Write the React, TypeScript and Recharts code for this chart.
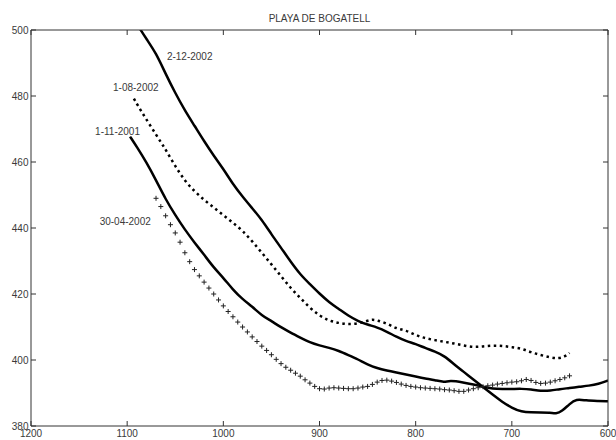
import React from "react";
import {
  LineChart,
  Line,
  XAxis,
  YAxis,
  ReferenceDot,
} from "recharts";

// beach profiles, Playa de Bogatell (distance vs level)
const xTicks = [1200, 1100, 1000, 900, 800, 700, 600];
const yTicks = [380, 400, 420, 440, 460, 480, 500];

const dec2002X = [
  1088, 1086, 1080, 1070, 1060, 1050, 1040, 1030, 1020, 1010, 1000, 990, 980, 970,
  960, 950, 940, 930, 920, 910, 900, 890, 880, 870, 860, 850, 840, 830, 820, 810,
  800, 790, 780, 770, 760, 750, 740, 730, 720, 710, 700, 690, 680, 670, 660, 654,
  648, 640, 633, 623, 610, 600,
];
const dec2002Y = [
  501, 500, 497.3, 493, 486.7, 480.9, 475.6, 471, 466.3, 461.9, 457.9, 453.3,
  449.5, 446, 442.5, 438.1, 434, 429.8, 425.9, 423, 420.1, 417.5, 415.5, 413.4,
  411.8, 410.7, 409.9, 408.6, 407, 405.7, 404.9, 403.6, 402.6, 401.2, 398.7,
  396.4, 394.1, 391.8, 389.5, 387.3, 385.5, 384.3, 384.1, 384.1, 384.1, 383.7,
  384.4, 386.7, 388.2, 387.7, 387.6, 387.5,
];

const nov2001X = [
  1097, 1090, 1080, 1070, 1060, 1050, 1040, 1030, 1020, 1010, 1000, 990, 980, 970,
  960, 950, 940, 930, 920, 910, 900, 890, 880, 870, 860, 850, 840, 830, 820, 810,
  800, 790, 780, 770, 765, 750, 740, 730, 720, 710, 700, 690, 680, 670, 660, 650,
  640, 630, 620, 610, 600,
];
const nov2001Y = [
  467.7, 464.6, 459.9, 454.5, 448.7, 443.9, 439.5, 435.6, 431.9, 428, 424.9,
  421.3, 418.4, 416.2, 413.5, 411.8, 409.9, 408.3, 406.8, 405.3, 404.4, 403.7,
  402.8, 401.5, 400.2, 398.6, 397.5, 396.8, 396.2, 395.6, 395, 394.4, 393.9,
  393.2, 393.8, 393.2, 392.6, 391.9, 391.3, 391.2, 391.2, 391.3, 391.1, 390.6,
  390.7, 391.2, 391.5, 391.9, 392.2, 392.7, 393.8,
];

const aug2002X = [
  1093, 1085, 1075, 1065, 1060, 1050, 1040, 1030, 1020, 1010, 1000, 990, 980, 970,
  960, 950, 940, 930, 920, 910, 900, 890, 880, 870, 860, 850, 845, 840, 830, 820,
  810, 800, 790, 780, 770, 760, 750, 740, 730, 720, 710, 700, 690, 680, 670, 660,
  652, 645, 640,
];
const aug2002Y = [
  479.2, 475.2, 470.6, 466, 463.8, 458.7, 454.3, 451.1, 448.5, 446.2, 443.9,
  441.6, 439.2, 436, 432.5, 429, 425.4, 421.8, 418.8, 415.8, 413.4, 411.9, 411.2,
  410.8, 411, 411.9, 412.3, 412, 411.1, 409.5, 409, 407.5, 406.6, 406, 405.5,
  405, 404.4, 403.9, 404.1, 404.4, 404.3, 403.9, 403.5, 402.3, 401.5, 400.8,
  400.4, 401, 402.1,
];

const apr2002X = [
  1070, 1065, 1060, 1055, 1050, 1045, 1040, 1035, 1030, 1025, 1020, 1015, 1010,
  1005, 1000, 995, 990, 985, 980, 975, 970, 965, 960, 955, 950, 945, 940, 935,
  930, 925, 920, 915, 910, 905, 900, 895, 890, 885, 880, 875, 870, 865, 860, 855,
  850, 845, 840, 835, 830, 825, 820, 815, 810, 805, 800, 795, 790, 785, 780, 775,
  770, 765, 760, 755, 750, 745, 740, 735, 730, 725, 720, 715, 710, 705, 700, 695,
  690, 685, 680, 675, 670, 665, 660, 655, 650, 645, 640,
];
const apr2002Y = [
  449, 446.5, 443.7, 441, 438.5, 435.7, 432.5, 429.8, 427.4, 425.5, 423.6, 421.8,
  420, 418.2, 416.4, 414.7, 413.1, 411.5, 410, 408.5, 407, 405.6, 404.2, 402.9,
  401.6, 400.2, 398.9, 397.8, 396.9, 396, 395.1, 394, 393, 392, 391.3, 391.2,
  391.5, 391.6, 391.5, 391.4, 391.3, 391.3, 391.5, 391.8, 392, 392.6, 393.3,
  393.8, 393.9, 393.6, 393.2, 392.7, 392.3, 392, 391.8, 391.6, 391.5, 391.4,
  391.3, 391.2, 391, 390.9, 390.7, 390.5, 390.5, 390.9, 391.3, 391.6, 391.9,
  392.2, 392.4, 392.7, 392.9, 393.1, 393.3, 393.4, 393.7, 394.1, 393.8, 393.2,
  392.9, 393, 393.3, 393.7, 394.1, 394.6, 395.2,
];

const labelNames = ["2-12-2002", "1-08-2002", "1-11-2001", "30-04-2002"];
const labelX = [1035, 1091, 1110, 1102];
const labelY = [492, 482.5, 469.2, 442.1];

const pair = (xs: number[], ys: number[]) => xs.map((x, i) => ({ x, y: ys[i] }));

const dec2002 = pair(dec2002X, dec2002Y);
const nov2001 = pair(nov2001X, nov2001Y);
const aug2002 = pair(aug2002X, aug2002Y);
const apr2002 = pair(apr2002X, apr2002Y);

const TEXT = "#3a3a3a";
const FRAME = "#333";

function BottomTick(props: any) {
  const { x, y, payload } = props;
  return (
    <g>
      <line x1={x} y1={y} x2={x} y2={y - 5} stroke={FRAME} />
      <text x={x} y={y + 10.5} textAnchor="middle" fontSize={10} fill={TEXT}>
        {payload.value}
      </text>
    </g>
  );
}

function TopTick(props: any) {
  const { x, y } = props;
  return <line x1={x} y1={y} x2={x} y2={y + 5} stroke={FRAME} />;
}

function LeftTick(props: any) {
  const { x, y, payload } = props;
  return (
    <g>
      <line x1={x} y1={y} x2={x + 5} y2={y} stroke={FRAME} />
      <text x={x - 2.5} y={y + 3.5} textAnchor="end" fontSize={10} fill={TEXT}>
        {payload.value}
      </text>
    </g>
  );
}

function RightTick(props: any) {
  const { x, y } = props;
  return <line x1={x} y1={y} x2={x - 5} y2={y} stroke={FRAME} />;
}

function PlusDot(props: any) {
  const { cx, cy, index } = props;
  if (cx == null || cy == null) return <g key={index} />;
  return (
    <path
      key={index}
      d={`M${cx - 2.5},${cy}h5M${cx},${cy - 2.5}v5`}
      stroke="#222"
      strokeWidth={1}
      fill="none"
    />
  );
}

export default function App() {
  return (
    <div
      style={{
        position: "absolute",
        left: 0,
        top: 0,
        width: 616,
        height: 440,
        background: "#fff",
        fontFamily: "'Liberation Sans', Arial, sans-serif",
      }}
    >
      <div
        style={{
          position: "absolute",
          left: 31,
          width: 577,
          top: 13,
          textAlign: "center",
          fontSize: 10,
          lineHeight: "12px",
          color: TEXT,
        }}
      >
        PLAYA DE BOGATELL
      </div>
      <LineChart
        width={616}
        height={440}
        margin={{ top: 0, right: 0, bottom: 0, left: 0 }}
      >
        <XAxis
          xAxisId="bottom"
          orientation="bottom"
          type="number"
          dataKey="x"
          domain={[600, 1200]}
          allowDataOverflow
          reversed
          ticks={xTicks}
          height={14}
          tickSize={0}
          tickMargin={0}
          tickLine={false}
          axisLine={{ stroke: FRAME }}
          tick={<BottomTick />}
          interval={0}
        />
        <XAxis
          xAxisId="top"
          orientation="top"
          type="number"
          dataKey="x"
          domain={[600, 1200]}
          allowDataOverflow
          reversed
          ticks={xTicks}
          height={30}
          tickSize={0}
          tickMargin={0}
          tickLine={false}
          axisLine={{ stroke: FRAME }}
          tick={<TopTick />}
          interval={0}
        />
        <YAxis
          yAxisId="left"
          type="number"
          dataKey="y"
          domain={[380, 500]}
          allowDataOverflow
          ticks={yTicks}
          width={31}
          tickSize={0}
          tickMargin={0}
          tickLine={false}
          axisLine={{ stroke: FRAME }}
          tick={<LeftTick />}
          interval={0}
        />
        <YAxis
          yAxisId="right"
          orientation="right"
          type="number"
          dataKey="y"
          domain={[380, 500]}
          allowDataOverflow
          ticks={yTicks}
          width={8}
          tickSize={0}
          tickMargin={0}
          tickLine={false}
          axisLine={{ stroke: FRAME }}
          tick={<RightTick />}
          interval={0}
        />
        <Line
          xAxisId="bottom"
          yAxisId="left"
          data={dec2002}
          dataKey="y"
          type="basis"
          stroke="#000"
          strokeWidth={2.5}
          dot={false}
          isAnimationActive={false}
        />
        <Line
          xAxisId="bottom"
          yAxisId="left"
          data={nov2001}
          dataKey="y"
          type="basis"
          stroke="#000"
          strokeWidth={2.5}
          dot={false}
          isAnimationActive={false}
        />
        <Line
          xAxisId="bottom"
          yAxisId="left"
          data={aug2002}
          dataKey="y"
          type="basis"
          stroke="#000"
          strokeWidth={2.5}
          strokeDasharray="2.5 3.5"
          dot={false}
          isAnimationActive={false}
        />
        <Line
          xAxisId="bottom"
          yAxisId="left"
          data={apr2002}
          dataKey="y"
          type="basis"
          stroke="none"
          dot={<PlusDot />}
          isAnimationActive={false}
        />
        {labelNames.map((name, i) => (
          <ReferenceDot
            key={name}
            xAxisId="bottom"
            yAxisId="left"
            x={labelX[i]}
            y={labelY[i]}
            r={0}
            fill="none"
            stroke="none"
            label={{ value: name, position: "center", fontSize: 10, fill: TEXT }}
          />
        ))}
      </LineChart>
    </div>
  );
}
